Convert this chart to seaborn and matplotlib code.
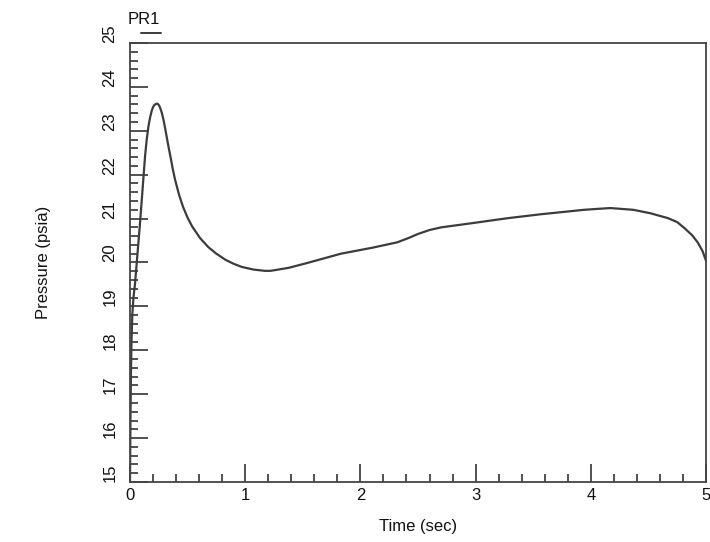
import matplotlib
matplotlib.use("Agg")
import numpy as np
import pandas as pd
import seaborn as sns
from matplotlib import pyplot as plt
from matplotlib.lines import Line2D
from matplotlib.ticker import MultipleLocator

sns.set_style("white")
plt.rcParams["font.family"] = ["Liberation Sans", "DejaVu Sans"]

# values
TIME = [0.0, 0.004, 0.008, 0.013, 0.02, 0.03, 0.043, 0.065, 0.087, 0.11, 0.13, 0.145,
        0.16, 0.174, 0.188, 0.2, 0.212, 0.225, 0.235, 0.243, 0.252, 0.262, 0.275, 0.29,
        0.305, 0.32, 0.337, 0.355, 0.372, 0.39, 0.425, 0.46, 0.5,
        0.54, 0.61, 0.68, 0.75, 0.83, 0.9, 0.97, 1.07, 1.17, 1.22, 1.38, 1.54, 1.83,
        2.11, 2.32, 2.42, 2.5, 2.6, 2.7, 2.98, 3.28, 3.57, 3.83, 3.94, 4.05, 4.17, 4.37,
        4.52, 4.67, 4.75, 4.81, 4.88, 4.93, 4.97, 5.0]
PRESSURE = [15.0, 16.4, 17.4, 18.2, 18.8, 19.2, 19.5, 20.2, 20.9, 21.7, 22.4, 22.8,
            23.1, 23.3, 23.45, 23.54, 23.59, 23.61, 23.62, 23.61, 23.58, 23.52, 23.42, 23.26,
            23.06, 22.84, 22.6, 22.36, 22.12, 21.9, 21.55, 21.27, 21.02,
            20.82, 20.55, 20.35, 20.2, 20.06, 19.97, 19.9, 19.84, 19.81, 19.81, 19.88, 19.99,
            20.2, 20.34, 20.46, 20.56, 20.65, 20.74, 20.8, 20.9, 21.01, 21.1, 21.17, 21.2, 21.22,
            21.24, 21.2, 21.12, 21.01, 20.92, 20.79, 20.62, 20.45, 20.26, 20.04]
SERIES = "PR1"
LINE_COLOR = "#3c3c3c"

df = pd.DataFrame({"Time (sec)": TIME, "Pressure (psia)": PRESSURE})

fig = plt.figure(figsize=(7.1, 5.42), dpi=100)
ax = fig.add_axes([130 / 710, 1 - 482 / 542, 576 / 710, 439 / 542])

sns.lineplot(data=df, x="Time (sec)", y="Pressure (psia)", ax=ax, sort=False,
             estimator=None, color=LINE_COLOR, linewidth=1.6)

ax.set_xlim(0, 5)
ax.set_ylim(15, 25)
ax.xaxis.set_major_locator(MultipleLocator(1))
ax.xaxis.set_minor_locator(MultipleLocator(0.2))
ax.yaxis.set_major_locator(MultipleLocator(1))
ax.yaxis.set_minor_locator(MultipleLocator(0.2))
ax.tick_params(which="both", direction="in", bottom=True, left=True, top=False, right=False,
               color="#333333", width=1.2, labelsize=12, labelcolor="#111111")
ax.tick_params(which="major", length=13)
ax.tick_params(which="minor", length=6)
ax.tick_params(axis="x", pad=4)
ax.tick_params(axis="y", pad=9)
for lab in ax.get_yticklabels():
    lab.set_rotation(90)
    lab.set_va("bottom")

for sp in ax.spines.values():
    sp.set_color("#444444")
    sp.set_linewidth(1.3)

ax.set_xlabel("Time (sec)", fontsize=12, color="#111111", labelpad=12)
ax.set_ylabel("Pressure (psia)", fontsize=12, color="#111111", labelpad=37)

# legend label with short line underneath, as in the original tool
fig.text(128 / 710, 1 - 20 / 542, SERIES, fontsize=12, color="#111111", va="center", ha="left")
fig.add_artist(Line2D([141 / 710, 161 / 710], [1 - 33 / 542, 1 - 33 / 542],
                      color=LINE_COLOR, linewidth=1.4, transform=fig.transFigure))

fig.savefig("out.png", dpi=100)
